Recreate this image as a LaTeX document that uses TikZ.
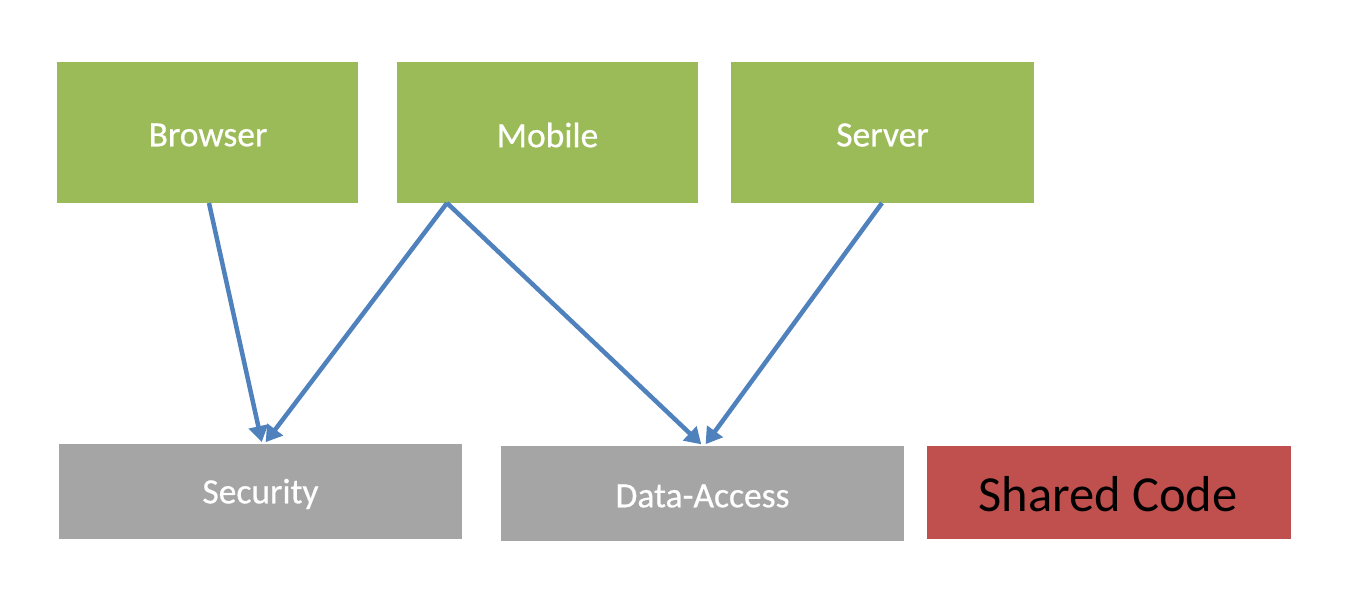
\documentclass[tikz,border=0pt]{standalone}
\usepackage{fontspec}
\setmainfont{Carlito}
\newfontfamily\boxfont[FakeBold=0.6]{Carlito}
\usetikzlibrary{arrows.meta}
\definecolor{boxgreen}{HTML}{9BBB59}
\definecolor{boxgray}{HTML}{A5A5A5}
\definecolor{boxred}{HTML}{C0504D}
\definecolor{linkblue}{HTML}{4F81BD}
\tikzset{
  appbox/.style={fill=boxgreen, draw=none, text=white, font=\boxfont\fontsize{35.5}{40}\selectfont},
  libbox/.style={fill=boxgray, draw=none, text=white, font=\boxfont\fontsize{35.5}{40}\selectfont},
  sharedbox/.style={fill=boxred, draw=none, text=black, font=\fontsize{50.5}{60}\selectfont},
  link/.style={draw=linkblue, line width=4.5pt, -{Triangle[width=19pt,length=16pt]}, shorten >=1pt}
}
\begin{document}
\begin{tikzpicture}[x=1pt,y=-1pt]
\useasboundingbox (0,0) rectangle (1354,596);
\path[appbox] (57,62) rectangle (358,203);
\node[appbox, fill=none] (browser) at (208,135) {Browser};
\path[appbox] (397,62) rectangle (698,203);
\node[appbox, fill=none] (mobile) at (547.5,135) {Mobile};
\path[appbox] (731,62) rectangle (1034,203);
\node[appbox, fill=none] (server) at (882.5,135) {Server};
\path[libbox] (59,444) rectangle (462,539);
\node[libbox, fill=none] (security) at (260.5,494) {Security};
\path[libbox] (501,446) rectangle (904,541);
\node[libbox, fill=none] (data) at (702.5,496) {Data-Access};
\path[sharedbox] (927,446) rectangle (1291,539);
\node[sharedbox, fill=none] (shared) at (1108,494) {Shared Code};
\coordinate (bB) at (209,203);
\coordinate (bM) at (447,203);
\coordinate (bS) at (882,203);
\coordinate (tSec) at (262,443);
\coordinate (tSec2) at (265,443);
\coordinate (tData) at (702,445);
\coordinate (tData2) at (705,445);
\draw[link] (bB) -- (tSec);
\draw[link] (bM) -- (tSec2);
\draw[link] (bM) -- (tData);
\draw[link] (bS) -- (tData2);
\end{tikzpicture}
\end{document}
